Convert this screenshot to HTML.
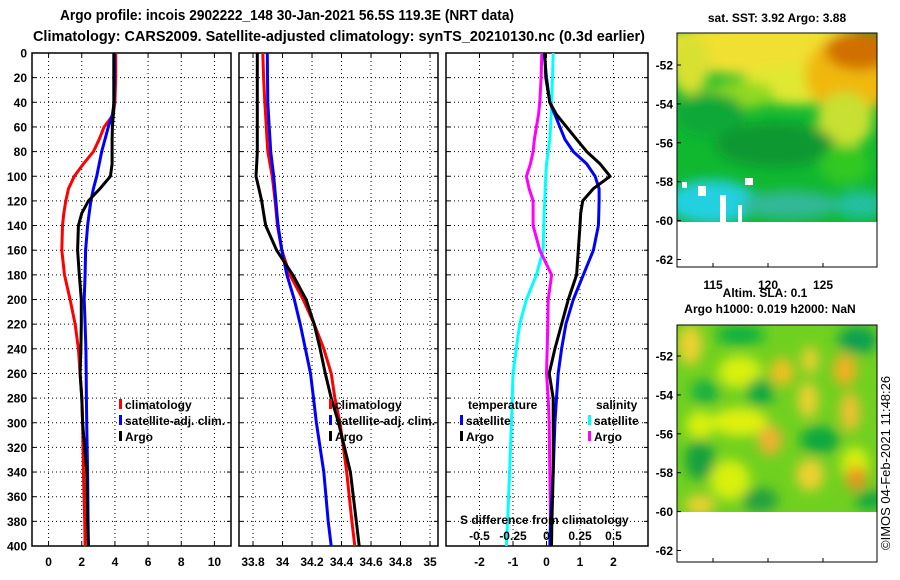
<!DOCTYPE html>
<html><head><meta charset="utf-8"><style>
html,body{margin:0;padding:0;background:#fff;}
svg{display:block;font-family:"Liberation Sans",Arial,sans-serif;}
.t{font-size:12px;font-weight:bold;}
</style></head><body>
<svg id="chart" width="900" height="580" viewBox="0 0 900 580" xmlns="http://www.w3.org/2000/svg">
<defs>
<filter id="blur6" x="-50%" y="-50%" width="200%" height="200%"><feGaussianBlur stdDeviation="6"/></filter>
<filter id="blur5" x="-50%" y="-50%" width="200%" height="200%"><feGaussianBlur stdDeviation="5"/></filter>
<clipPath id="clipTop"><rect x="677" y="33" width="200" height="189"/></clipPath>
<clipPath id="clipBot"><rect x="677" y="325" width="200" height="187"/></clipPath>
</defs>
<text x="60" y="20" font-size="15" font-weight="bold" textLength="454" lengthAdjust="spacingAndGlyphs">Argo profile: incois 2902222_148 30-Jan-2021 56.5S 119.3E (NRT data)</text>
<text x="33" y="41" font-size="15" font-weight="bold" textLength="612" lengthAdjust="spacingAndGlyphs">Climatology: CARS2009. Satellite-adjusted climatology: synTS_20210130.nc (0.3d earlier)</text>
<g id="panels"></g>
<!-- SST map -->
<g>
<g clip-path="url(#clipTop)">
<rect x="677" y="33" width="200" height="189" fill="#10b830"/>
<g filter="url(#blur6)">
<ellipse cx="770" cy="48" rx="120" ry="28" fill="#f0e030"/>
<ellipse cx="690" cy="65" rx="20" ry="30" fill="#d8e030"/>
<ellipse cx="800" cy="85" rx="60" ry="20" fill="#e0e830"/>
<ellipse cx="850" cy="75" rx="45" ry="40" fill="#f0b810"/>
<ellipse cx="860" cy="50" rx="35" ry="20" fill="#d07000"/>
<ellipse cx="845" cy="120" rx="28" ry="28" fill="#c8e030"/>
<ellipse cx="740" cy="95" rx="35" ry="14" fill="#90d820"/>
<ellipse cx="710" cy="115" rx="35" ry="22" fill="#10a838"/>
<ellipse cx="775" cy="145" rx="60" ry="22" fill="#089830"/>
<ellipse cx="845" cy="165" rx="25" ry="20" fill="#30c820"/>
<ellipse cx="712" cy="202" rx="45" ry="22" fill="#20d0e0"/>
<ellipse cx="790" cy="205" rx="50" ry="14" fill="#30b898"/>
<ellipse cx="860" cy="205" rx="25" ry="14" fill="#20c0a0"/>
</g>
<rect x="698" y="186" width="8" height="10" fill="#fff"/>
<rect x="720" y="195" width="6" height="27" fill="#fff"/>
<rect x="745" y="178" width="8" height="7" fill="#fff"/>
<rect x="738" y="205" width="4" height="17" fill="#fff"/>
<rect x="682" y="182" width="5" height="6" fill="#fff"/>
</g>
<rect x="677" y="33" width="200" height="234" fill="none" stroke="#000"/>
</g>
<!-- SLA map -->
<g>
<g clip-path="url(#clipBot)">
<rect x="677" y="325" width="200" height="187" fill="#70d020"/>
<g filter="url(#blur6)">
<ellipse cx="690" cy="345" rx="12" ry="20" fill="#f0d030"/>
<ellipse cx="740" cy="335" rx="25" ry="10" fill="#10b040"/>
<ellipse cx="740" cy="372" rx="22" ry="16" fill="#d8f010"/>
<ellipse cx="782" cy="372" rx="12" ry="14" fill="#f0c020"/>
<ellipse cx="810" cy="360" rx="8" ry="14" fill="#f0d030"/>
<ellipse cx="845" cy="370" rx="12" ry="16" fill="#f0b020"/>
<ellipse cx="858" cy="340" rx="20" ry="14" fill="#10a050"/>
<ellipse cx="760" cy="392" rx="14" ry="14" fill="#10a840"/>
<ellipse cx="705" cy="392" rx="14" ry="12" fill="#18b040"/>
<ellipse cx="808" cy="400" rx="10" ry="18" fill="#f0d030"/>
<ellipse cx="850" cy="412" rx="10" ry="20" fill="#f0c030"/>
<ellipse cx="740" cy="422" rx="28" ry="14" fill="#e0f010"/>
<ellipse cx="700" cy="425" rx="14" ry="14" fill="#d8f010"/>
<ellipse cx="770" cy="440" rx="12" ry="15" fill="#f0b030"/>
<ellipse cx="700" cy="460" rx="15" ry="20" fill="#18a040"/>
<ellipse cx="820" cy="440" rx="20" ry="14" fill="#10a840"/>
<ellipse cx="855" cy="465" rx="14" ry="18" fill="#d8f010"/>
<ellipse cx="810" cy="475" rx="14" ry="16" fill="#f0d030"/>
<ellipse cx="856" cy="478" rx="10" ry="12" fill="#f09020"/>
<ellipse cx="730" cy="480" rx="20" ry="20" fill="#d8f010"/>
<ellipse cx="760" cy="500" rx="18" ry="12" fill="#20a040"/>
<ellipse cx="700" cy="505" rx="15" ry="10" fill="#f0d030"/>
<ellipse cx="870" cy="500" rx="15" ry="10" fill="#10a840"/>
</g>
</g>
<rect x="677" y="325" width="200" height="237" fill="none" stroke="#000"/>
</g>
<g id="maplabels"></g>
<text class="t" x="777" y="22" text-anchor="middle">sat. SST: 3.92 Argo: 3.88</text>
<text class="t" x="765" y="297" text-anchor="middle">Altim. SLA: 0.1</text>
<text class="t" x="770" y="313" text-anchor="middle">Argo h1000: 0.019 h2000: NaN</text>
<text font-size="13" transform="translate(890,550) rotate(-90)">©IMOS 04-Feb-2021 11:48:26</text>
</svg>
<script>
// ---- data (depth levels in metres) ----
const depths = [0,20,40,50,60,70,80,90,100,110,120,130,140,160,180,200,220,240,260,280,300,340,380,400];
const tempClim = [4.05,4.05,4.0,3.9,3.35,3.05,2.7,2.1,1.55,1.2,1.04,0.92,0.84,0.8,0.96,1.3,1.6,1.8,1.9,2.0,2.05,2.1,2.18,2.2];
const tempSat  = [3.97,3.97,3.95,3.85,3.6,3.4,3.2,3.05,2.9,2.7,2.55,2.45,2.35,2.23,2.2,2.15,2.2,2.25,2.27,2.28,2.3,2.35,2.38,2.4];
const tempArgo = [3.93,3.93,3.93,3.9,3.85,3.83,3.83,3.83,3.73,3.1,2.4,2.0,1.8,1.75,1.85,1.97,1.97,1.95,1.9,2.0,2.05,2.3,2.35,2.4];
const salClim = [33.866,33.872,33.88,33.885,33.89,33.895,33.9,33.915,33.93,33.94,33.95,33.958,33.965,33.995,34.05,34.14,34.215,34.28,34.33,34.355,34.39,34.435,34.47,34.49];
const salSat  = [33.897,33.898,33.9,33.905,33.91,33.915,33.92,33.93,33.94,33.948,33.955,33.962,33.97,33.995,34.03,34.08,34.12,34.155,34.19,34.21,34.23,34.28,34.31,34.33];
const salArgo = [33.829,33.829,33.829,33.829,33.829,33.829,33.829,33.825,33.82,33.84,33.859,33.872,33.886,33.96,34.07,34.16,34.215,34.255,34.29,34.33,34.38,34.46,34.5,34.52];
const dTempSat  = [-0.07,0.0,0.1,0.25,0.4,0.55,0.8,1.2,1.45,1.57,1.57,1.56,1.55,1.4,1.1,0.8,0.58,0.45,0.35,0.3,0.25,0.2,0.12,0.1];
const dTempArgo = [-0.05,-0.02,0.1,0.3,0.6,0.9,1.2,1.6,1.9,1.4,1.08,1.02,1.0,0.95,0.9,0.65,0.45,0.25,0.08,0.2,0.2,0.2,0.16,0.15];
const dSalSat  = [0.05,0.045,0.038,0.035,0.03,0.025,0.013,0.0,-0.005,-0.01,-0.013,-0.018,-0.02,-0.025,-0.075,-0.15,-0.2,-0.225,-0.25,-0.255,-0.262,-0.275,-0.29,-0.3];
const dSalArgo = [-0.035,-0.04,-0.05,-0.06,-0.075,-0.09,-0.1,-0.12,-0.15,-0.13,-0.1,-0.1,-0.1,-0.05,0.038,0.013,0.01,0.005,0.0,0.013,0.02,0.025,0.03,0.035];
const depthTicks = [0,20,40,60,80,100,120,140,160,180,200,220,240,260,280,300,320,340,360,380,400];
const tTicks = [0,2,4,6,8,10];
const sTicks = [33.8,34,34.2,34.4,34.6,34.8,35];
const dTicks = [-2,-1,0,1,2];
const sDiffTicks = [-0.5,-0.25,0,0.25,0.5];
const latTicks = [-52,-54,-56,-58,-60,-62];
const lonTicks = [115,120,125];

const NS = 'http://www.w3.org/2000/svg';
const root = document.getElementById('panels');
function mk(tag, attrs, parent){ const e=document.createElementNS(NS,tag); for(const k in attrs) e.setAttribute(k,attrs[k]); (parent||root).appendChild(e); return e; }
const Y0=53, Y1=546;
const yD = d => Y0 + d*(Y1-Y0)/400;

const panels = [
  {name:'temperature', x0:32, x1:231, vmin:-1, vmax:11, ticks:tTicks, lab:v=>String(v)},
  {name:'salinity', x0:239, x1:438, vmin:33.705, vmax:35.054, ticks:sTicks, lab:v=>String(v)},
  {name:'difference', x0:446, x1:648, vmin:-3, vmax:3.03, ticks:dTicks, lab:v=>String(v)}
];
panels.forEach(p=>{ p.x = v => p.x0 + (v-p.vmin)*(p.x1-p.x0)/(p.vmax-p.vmin); });

panels.forEach((p,pi)=>{
  const g = mk('g',{});
  
  
  depthTicks.forEach(d=>{
    if(d>0 && d<400){
      const l = mk('line',{x1:p.x0,x2:p.x1,y1:yD(d),y2:yD(d),stroke:'#000','stroke-dasharray':'1,3','stroke-width':1},g);
      
      
    }
    mk('line',{x1:p.x0,x2:p.x0+4,y1:yD(d),y2:yD(d),stroke:'#000'},g);
    mk('line',{x1:p.x1-4,x2:p.x1,y1:yD(d),y2:yD(d),stroke:'#000'},g);
  });
  p.ticks.forEach(v=>{
    const X = p.x(v);
    const l = mk('line',{x1:X,x2:X,y1:Y0,y2:Y1,stroke:'#000','stroke-dasharray':'1,3'},g);
    
    
    mk('line',{x1:X,x2:X,y1:Y0,y2:Y0+4,stroke:'#000'},g);
    mk('line',{x1:X,x2:X,y1:Y1-4,y2:Y1,stroke:'#000'},g);
    const t = mk('text',{x:X,y:566,'text-anchor':'middle','class':'t'},g);
    t.textContent = p.lab(v);
    
    
  });
  const fr = mk('rect',{x:p.x0,y:Y0,width:p.x1-p.x0,height:Y1-Y0,fill:'none',stroke:'#000','stroke-width':1.5},g);
  
  
});
depthTicks.forEach(d=>{
  const t = mk('text',{x:27,y:yD(d)+4.5,'text-anchor':'end','class':'t'});
  t.textContent = String(d);
  
  
});

function line(p, vals, color, name, scale){
  const pts = vals.map((v,i)=> p.x(v*(scale||1)).toFixed(1)+','+yD(depths[i]).toFixed(1)).join(' ');
  const pl = mk('polyline',{points:pts,fill:'none',stroke:color,'stroke-width':3,'stroke-linejoin':'round'});
  
  
}
const [P1,P2,P3] = panels;
line(P1,tempClim,'#ff0000','temp-climatology-line');
line(P1,tempSat,'#0000ff','temp-satellite-line');
line(P1,tempArgo,'#000000','temp-argo-line');
line(P2,salClim,'#ff0000','sal-climatology-line');
line(P2,salSat,'#0000ff','sal-satellite-line');
line(P2,salArgo,'#000000','sal-argo-line');
line(P3,dSalSat,'#00ffff','sal-diff-satellite-line',4);
line(P3,dSalArgo,'#ff00ff','sal-diff-argo-line',4);
line(P3,dTempSat,'#0000ff','temp-diff-satellite-line');
line(P3,dTempArgo,'#000000','temp-diff-argo-line');

function legend(x,y,color,label,name){
  const g = mk('g',{});
  
  
  mk('rect',{x:x,y:y-10,width:3,height:10,fill:color},g);
  const t = mk('text',{x:x+6,y:y,'class':'t'},g);
  t.textContent = label;
}
legend(119,409,'#ff0000','climatology','legend-temp-climatology');
legend(119,425,'#0000ff','satellite-adj. clim.','legend-temp-satellite');
legend(119,441,'#000000','Argo','legend-temp-argo');
legend(329,409,'#ff0000','climatology','legend-sal-climatology');
legend(329,425,'#0000ff','satellite-adj. clim.','legend-sal-satellite');
legend(329,441,'#000000','Argo','legend-sal-argo');
legend(460,425,'#0000ff','satellite','legend-diff-temp-satellite');
legend(460,441,'#000000','Argo','legend-diff-temp-argo');
legend(588,425,'#00ffff','satellite','legend-diff-sal-satellite');
legend(588,441,'#ff00ff','Argo','legend-diff-sal-argo');
let t;
t = mk('text',{x:468,y:409,'class':'t'}); t.textContent='temperature';
 
t = mk('text',{x:596,y:409,'class':'t'}); t.textContent='salinity';
 
t = mk('text',{x:460,y:524,'class':'t'}); t.textContent='S difference from climatology';
 
sDiffTicks.forEach(v=>{
  const s = mk('text',{x:P3.x(v*4),y:540,'text-anchor':'middle','class':'t'});
  s.textContent = String(v);
  
  
});

const ml = document.getElementById('maplabels');
[[65,'sst'],[356,'sla']].forEach(([y52,nm])=>{
  latTicks.forEach(lat=>{
    const Y = y52 + (lat+52)*(-19.45);
    const s = mk('text',{x:673,y:Y+4.5,'text-anchor':'end','class':'t'},ml);
    s.textContent = String(lat);
    
    
    mk('line',{x1:677,x2:681,y1:Y,y2:Y,stroke:'#000'},ml);
  });
});
lonTicks.forEach(lon=>{
  const X = 768 + (lon-120)*11;
  const s = mk('text',{x:X,y:289,'text-anchor':'middle','class':'t','font-size':'14'},ml);
  s.textContent = String(lon);
  
  
  mk('line',{x1:X,x2:X,y1:263,y2:267,stroke:'#000'},ml);
  mk('line',{x1:X,x2:X,y1:558,y2:562,stroke:'#000'},ml);
});
</script>
</body></html>
